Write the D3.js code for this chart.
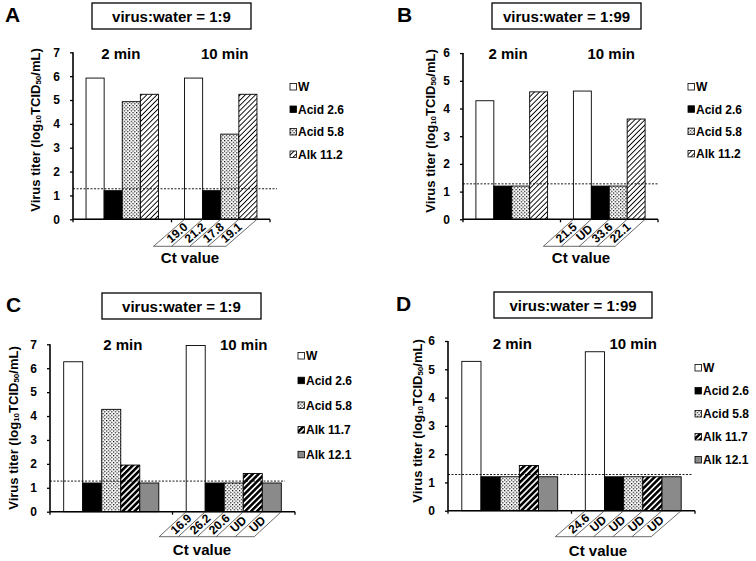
<!DOCTYPE html>
<html><head><meta charset="utf-8">
<script src="https://cdn.jsdelivr.net/npm/d3@7"></script>
<style>body{margin:0;background:#fff}svg{display:block}text{font-family:Arial,"Liberation Sans",sans-serif;font-weight:bold;fill:#000}</style>
</head><body>
<script>
// ---------- DATA ----------
const timeGroups = ["2 min", "10 min"];
const seriesAB = ["W", "Acid 2.6", "Acid 5.8", "Alk 11.2"];
const seriesCD = ["W", "Acid 2.6", "Acid 5.8", "Alk 11.7", "Alk 12.1"];

const panelA_2min = [5.92, 1.2, 4.93, 5.24];
const panelA_10min = [5.92, 1.2, 3.57, 5.24];
const panelB_2min = [4.28, 1.2, 1.2, 4.6];
const panelB_10min = [4.63, 1.2, 1.2, 3.62];
const panelC_2min = [6.27, 1.2, 4.28, 1.95, 1.2];
const panelC_10min = [6.95, 1.2, 1.2, 1.6, 1.2];
const panelD_2min = [5.28, 1.2, 1.2, 1.6, 1.2];
const panelD_10min = [5.62, 1.2, 1.2, 1.2, 1.2];

const ctA = ["19.0", "21.2", "17.8", "19.1"];
const ctB = ["21.5", "UD", "33.6", "22.1"];
const ctC = ["16.9", "26.2", "20.6", "UD", "UD"];
const ctD = ["24.6", "UD", "UD", "UD", "UD"];

const ticks7 = [0, 1, 2, 3, 4, 5, 6, 7];
const ticks6 = [0, 1, 2, 3, 4, 5, 6];
const detectionLimit = 1.28;
const titles = ["virus:water = 1:9", "virus:water = 1:99", "virus:water = 1:9", "virus:water = 1:99"];

// ---------- LAYOUT ----------
const svg = d3.select("body").append("svg").attr("width", 756).attr("height", 561);
svg.append("rect").attr("width", 756).attr("height", 561).attr("fill", "#fff");
const defs = svg.append("defs");
const dots = defs.append("pattern").attr("id", "dots").attr("patternUnits", "userSpaceOnUse").attr("width", 3.5).attr("height", 3.5);
dots.append("rect").attr("width", 3.5).attr("height", 3.5).attr("fill", "#fff");
dots.append("rect").attr("x", 0).attr("y", 0).attr("width", 1.2).attr("height", 1.2).attr("fill", "#000");
dots.append("rect").attr("x", 1.75).attr("y", 1.75).attr("width", 1.2).attr("height", 1.2).attr("fill", "#000");
function hatch(id, sp, sw) {
  const p = defs.append("pattern").attr("id", id).attr("patternUnits", "userSpaceOnUse")
    .attr("width", sp).attr("height", sp).attr("patternTransform", "rotate(45)");
  p.append("rect").attr("width", sp).attr("height", sp).attr("fill", "#fff");
  p.append("line").attr("x1", sw / 2).attr("y1", 0).attr("x2", sw / 2).attr("y2", sp).attr("stroke", "#000").attr("stroke-width", sw);
}
hatch("hatchThin", 3.6, 0.9);
hatch("hatchThick", 4.2, 2.6);
const fills = {"W": "#fff", "Acid 2.6": "#000", "Acid 5.8": "url(#dots)", "Alk 11.2": "url(#hatchThin)", "Alk 11.7": "url(#hatchThick)", "Alk 12.1": "#8a8a8a"};

const panels = [
  {letter: "A", lx: 5, ly: 22, box: [92, 3, 159, 26], title: titles[0], series: seriesAB, v2: panelA_2min, v10: panelA_10min, ct: ctA, ticks: ticks7,
   x0: 73, x1: 270, yTopPx: 52.3, y0: 219.3, dashEnd: 277, legX: 290, legY: 87, legDy: 22.5, ylx: 35, yly: 130, minDx: [-1.5, 4], minY: 59, ctX: 190, ctY: 263, th: 27, ts: 31},
  {letter: "B", lx: 397, ly: 22, box: [492, 3, 149, 26], title: titles[1], series: seriesAB, v2: panelB_2min, v10: panelB_10min, ct: ctB, ticks: ticks6,
   x0: 463, x1: 658, yTopPx: 53.1, y0: 219.3, dashEnd: 659, legX: 688, legY: 87, legDy: 22.3, ylx: 430, yly: 131, minDx: [-3.7, 2], minY: 59, ctX: 581, ctY: 263, th: 27, ts: 30},
  {letter: "C", lx: 6, ly: 312, box: [102, 293, 159, 26], title: titles[2], series: seriesCD, v2: panelC_2min, v10: panelC_10min, ct: ctC, ticks: ticks7,
   x0: 50, x1: 295, yTopPx: 344.3, y0: 511.7, dashEnd: 285, legX: 298, legY: 356, legDy: 24.7, ylx: 12.8, yly: 428, minDx: [11.5, 10], minY: 350, ctX: 202, ctY: 555, th: 25, ts: 27},
  {letter: "D", lx: 396, ly: 311, box: [494, 292, 158, 26], title: titles[3], series: seriesCD, v2: panelD_2min, v10: panelD_10min, ct: ctD, ticks: ticks6,
   x0: 448, x1: 695, yTopPx: 341, y0: 510.7, dashEnd: 693, legX: 695, legY: 368, legDy: 23, ylx: 417, yly: 421, minDx: [2.5, 0], minY: 349, ctX: 598, ctY: 556, th: 26, ts: 30}
];

panels.forEach(p => {
  const g = svg.append("g");
  const yMax = d3.max(p.ticks);
  const y = d3.scaleLinear().domain([0, yMax]).range([p.y0, p.yTopPx]);
  const xOuter = d3.scaleBand().domain(timeGroups).range([p.x0, p.x1]).padding(0);
  const xInner = d3.scaleBand().domain(p.series).range([0, xOuter.bandwidth()]).paddingInner(0).paddingOuter(0.72);
  const rows = timeGroups.map((t, i) => ({t, vals: (i === 0 ? p.v2 : p.v10).map((v, j) => ({s: p.series[j], v}))}));

  g.append("text").attr("x", p.lx).attr("y", p.ly).attr("font-size", 21).text(p.letter);
  g.append("rect").attr("x", p.box[0]).attr("y", p.box[1]).attr("width", p.box[2]).attr("height", p.box[3])
    .attr("fill", "#fff").attr("stroke", "#000").attr("stroke-width", 1.3);
  g.append("text").attr("x", p.box[0] + p.box[2] / 2).attr("y", p.box[1] + p.box[3] / 2 + 5.5)
    .attr("text-anchor", "middle").attr("font-size", 15).text(p.title);

  const grp = g.selectAll(".grp").data(rows).join("g").attr("transform", d => `translate(${xOuter(d.t)},0)`);
  grp.selectAll("rect").data(d => d.vals).join("rect")
    .attr("x", d => xInner(d.s)).attr("width", xInner.bandwidth())
    .attr("y", d => y(d.v)).attr("height", d => y(0) - y(d.v))
    .attr("fill", d => fills[d.s]).attr("stroke", "#000").attr("stroke-width", 0.9);

  g.selectAll(".tl").data(timeGroups).join("text")
    .attr("x", (d, i) => xOuter(d) + xOuter.bandwidth() / 2 + p.minDx[i]).attr("y", p.minY)
    .attr("text-anchor", "middle").attr("font-size", 15).text(d => d);

  g.append("line").attr("x1", p.x0).attr("x2", p.dashEnd).attr("y1", y(detectionLimit)).attr("y2", y(detectionLimit))
    .attr("stroke", "#000").attr("stroke-width", 0.9).attr("stroke-dasharray", "2,1.5");

  const ya = g.append("g").attr("transform", `translate(${p.x0},0)`)
    .call(d3.axisLeft(y).tickValues(p.ticks).tickFormat(d3.format("d")).tickSize(3).tickPadding(10));
  ya.select(".domain").attr("stroke-width", 1.6).attr("d", `M0,${y(0)}V${y(yMax)}`);
  ya.selectAll(".tick line").attr("stroke-width", 1.3);
  ya.selectAll("text").attr("font-size", 12).attr("font-family", "Arial, Liberation Sans, sans-serif").attr("font-weight", "bold");

  const bounds = [p.x0, ...timeGroups.map(t => xOuter(t) + xOuter.bandwidth())];
  g.append("line").attr("x1", p.x0).attr("x2", p.x1).attr("y1", p.y0).attr("y2", p.y0).attr("stroke", "#000").attr("stroke-width", 1.6);
  g.selectAll(".xt").data(bounds).join("line").attr("x1", d => d).attr("x2", d => d)
    .attr("y1", p.y0).attr("y2", p.y0 + 3).attr("stroke", "#000").attr("stroke-width", 1.3);

  const yl = g.append("text").attr("transform", `translate(${p.ylx},${p.yly}) rotate(-90)`)
    .attr("text-anchor", "middle").attr("dominant-baseline", "central").attr("font-size", 13);
  yl.append("tspan").text("Virus titer (log");
  yl.append("tspan").attr("font-size", 8).attr("dy", 3).text("10");
  yl.append("tspan").attr("dy", -3).text("TCID");
  yl.append("tspan").attr("font-size", 8).attr("dy", 3).text("50");
  yl.append("tspan").attr("dy", -3).text("/mL)");

  const leg = g.selectAll(".lg").data(p.series).join("g").attr("transform", (d, i) => `translate(${p.legX},${p.legY + i * p.legDy})`);
  leg.append("rect").attr("x", 0).attr("y", -3.5).attr("width", 6.5).attr("height", 6.5)
    .attr("fill", d => fills[d]).attr("stroke", "#000").attr("stroke-width", 0.8);
  leg.append("text").attr("x", 8).attr("y", 4.3).attr("font-size", 12).text(d => d);

  const gx = xOuter(timeGroups[1]);
  const edges = p.series.map(s => gx + xInner(s)).concat([gx + xInner(p.series[p.series.length - 1]) + xInner.bandwidth()]);
  const yb = p.y0 + p.th;
  g.selectAll(".tln").data(edges).join("line")
    .attr("x1", d => d).attr("y1", p.y0).attr("x2", d => d - p.ts).attr("y2", yb)
    .attr("stroke", "#444").attr("stroke-width", 0.8);
  g.append("line").attr("x1", edges[0] - p.ts).attr("x2", edges[edges.length - 1] - p.ts).attr("y1", yb).attr("y2", yb)
    .attr("stroke", "#444").attr("stroke-width", 0.8);
  const ang = Math.atan2(p.th, p.ts) * 180 / Math.PI;
  g.selectAll(".ctt").data(p.ct).join("text")
    .attr("transform", (d, i) => `translate(${(edges[i] + edges[i + 1]) / 2 - p.ts / 2 - 1},${p.y0 + p.th / 2}) rotate(${-ang})`)
    .attr("text-anchor", "middle").attr("dominant-baseline", "central").attr("font-size", 12).text(d => d);
  g.append("text").attr("x", p.ctX).attr("y", p.ctY).attr("text-anchor", "middle").attr("font-size", 15).text("Ct value");
});
</script>
</body></html>
